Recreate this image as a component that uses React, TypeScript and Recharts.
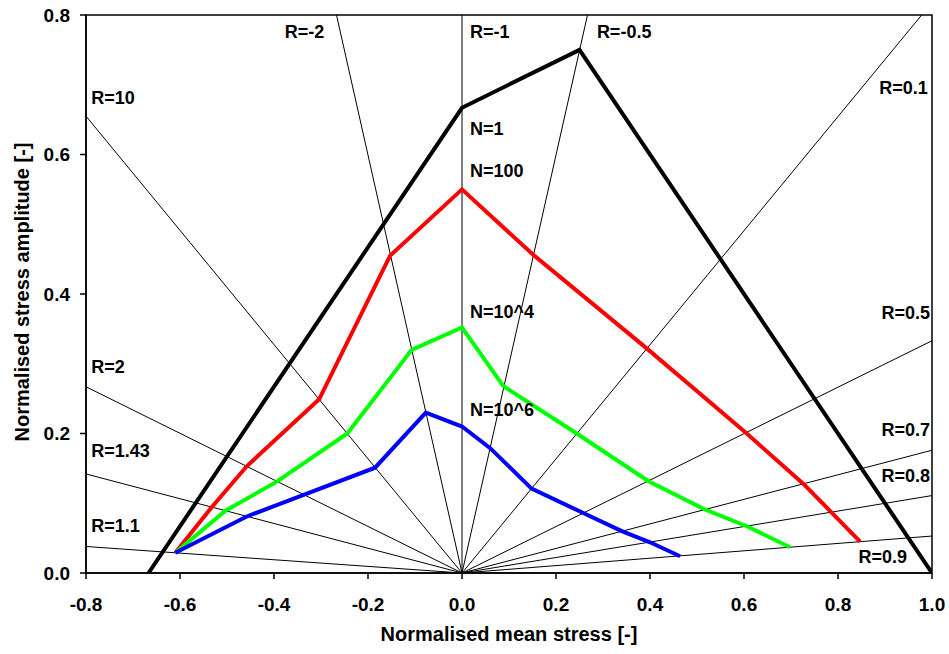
import React from 'react';
import { LineChart, Line, XAxis, YAxis, ReferenceArea, ReferenceDot } from 'recharts';

// constant-R rays from the origin to the plot edge
const rLabels = ['R=10', 'R=2', 'R=1.43', 'R=1.1', 'R=-2', 'R=-1', 'R=-0.5', 'R=0.1', 'R=0.5', 'R=0.7', 'R=0.8', 'R=0.9'];
const rEndX = [-0.8, -0.8, -0.8, -0.8, -0.267, 0, 0.267, 0.978, 1, 1, 1, 1];
const rEndY = [0.655, 0.267, 0.142, 0.038, 0.8, 0.8, 0.8, 0.8, 0.333, 0.176, 0.111, 0.053];

// constant-life curves
const n1X = [-0.667, 0, 0.25, 1.0];
const n1Y = [0, 0.667, 0.75, 0];
const n100X = [-0.61, -0.533, -0.458, -0.304, -0.153, 0, 0.152, 0.393, 0.604, 0.726, 0.786, 0.847];
const n100Y = [0.029, 0.094, 0.153, 0.249, 0.455, 0.55, 0.456, 0.322, 0.201, 0.128, 0.087, 0.045];
const n1e4X = [-0.61, -0.504, -0.394, -0.244, -0.107, 0, 0.088, 0.244, 0.396, 0.517, 0.606, 0.698];
const n1e4Y = [0.029, 0.089, 0.131, 0.2, 0.32, 0.352, 0.268, 0.2, 0.132, 0.091, 0.067, 0.037];
const n1e6X = [-0.61, -0.458, -0.185, -0.077, 0, 0.06, 0.148, 0.258, 0.34, 0.4, 0.464];
const n1e6Y = [0.029, 0.081, 0.151, 0.23, 0.21, 0.179, 0.121, 0.086, 0.06, 0.044, 0.024];

const curveNames = ['N=1', 'N=100', 'N=10^4', 'N=10^6'];
const curveColors = ['#000000', '#ff0000', '#00ff00', '#0000ff'];

const xTicks = [-0.8, -0.6, -0.4, -0.2, 0, 0.2, 0.4, 0.6, 0.8, 1.0];
const yTicks = [0, 0.2, 0.4, 0.6, 0.8];

// where each annotation sits (data coords, text anchor)
const rLabelPos: [number, number, string][] = [
  [-0.789, 0.672, 'start'],
  [-0.789, 0.287, 'start'],
  [-0.789, 0.166, 'start'],
  [-0.789, 0.059, 'start'],
  [-0.377, 0.767, 'start'],
  [0.017, 0.767, 'start'],
  [0.287, 0.767, 'start'],
  [0.991, 0.687, 'end'],
  [0.996, 0.364, 'end'],
  [0.996, 0.196, 'end'],
  [0.996, 0.13, 'end'],
  [0.947, 0.014, 'end'],
];
const nLabelPos: [number, number][] = [
  [0.017, 0.628],
  [0.017, 0.568],
  [0.017, 0.366],
  [0.017, 0.225],
];

const FONT = '"Liberation Sans", Arial, sans-serif';

const toPoints = (xs: number[], ys: number[]) => xs.map((x, i) => ({ x, y: ys[i] }));

const curves = [
  toPoints(n1X, n1Y),
  toPoints(n100X, n100Y),
  toPoints(n1e4X, n1e4Y),
  toPoints(n1e6X, n1e6Y),
];

const labelShape = (text: string, anchor: string) => (props: any) => (
  <text
    x={props.cx}
    y={props.cy}
    textAnchor={anchor}
    fontFamily={FONT}
    fontWeight="bold"
    fontSize={18}
    fill="#000"
  >
    {text}
  </text>
);

export default function App() {
  return (
    <div style={{ position: 'absolute', left: 0, top: 0, background: '#fff' }}>
      <LineChart width={949} height={654} margin={{ top: 15, right: 17, bottom: 0, left: 0 }}>
        <XAxis
          type="number"
          dataKey="x"
          domain={[-0.8, 1.0]}
          ticks={xTicks}
          allowDataOverflow
          tickFormatter={(v: number) => v.toFixed(1)}
          tickSize={6}
          tickMargin={19}
          height={81}
          stroke="#000"
          strokeWidth={1.5}
          tick={{ fill: '#000', fontSize: 19, fontWeight: 'bold', fontFamily: FONT }}
          label={{
            content: (p: any) => (
              <text
                x={p.viewBox.x + p.viewBox.width / 2}
                y={641}
                textAnchor="middle"
                fontFamily={FONT}
                fontWeight="bold"
                fontSize={20}
                fill="#000"
              >
                Normalised mean stress [-]
              </text>
            ),
          }}
        />
        <YAxis
          type="number"
          dataKey="y"
          domain={[0, 0.8]}
          ticks={yTicks}
          allowDataOverflow
          tickFormatter={(v: number) => v.toFixed(1)}
          tickSize={6}
          tickMargin={10}
          width={86}
          stroke="#000"
          strokeWidth={1.5}
          tick={{ fill: '#000', fontSize: 19, fontWeight: 'bold', fontFamily: FONT }}
          label={{
            content: () => (
              <text
                x={29}
                y={292}
                transform="rotate(-90 29 292)"
                textAnchor="middle"
                fontFamily={FONT}
                fontWeight="bold"
                fontSize={20}
                fill="#000"
              >
                Normalised stress amplitude [-]
              </text>
            ),
          }}
        />
        <ReferenceArea x1={-0.8} x2={1.0} y1={0} y2={0.8} fill="none" stroke="#000" strokeWidth={1.5} />
        {rLabels.map((name, i) => (
          <Line
            key={name}
            data={[{ x: 0, y: 0 }, { x: rEndX[i], y: rEndY[i] }]}
            dataKey="y"
            stroke="#000"
            strokeWidth={1}
            dot={false}
            activeDot={false}
            isAnimationActive={false}
          />
        ))}
        {curves.map((pts, i) => (
          <Line
            key={curveNames[i]}
            data={pts}
            dataKey="y"
            name={curveNames[i]}
            stroke={curveColors[i]}
            strokeWidth={4}
            strokeLinejoin="miter"
            dot={false}
            activeDot={false}
            isAnimationActive={false}
          />
        ))}
        {rLabels.map((name, i) => (
          <ReferenceDot
            key={'l' + name}
            x={rLabelPos[i][0]}
            y={rLabelPos[i][1]}
            r={0}
            shape={labelShape(name, rLabelPos[i][2])}
          />
        ))}
        {curveNames.map((name, i) => (
          <ReferenceDot
            key={'n' + name}
            x={nLabelPos[i][0]}
            y={nLabelPos[i][1]}
            r={0}
            shape={labelShape(name, 'start')}
          />
        ))}
      </LineChart>
    </div>
  );
}
